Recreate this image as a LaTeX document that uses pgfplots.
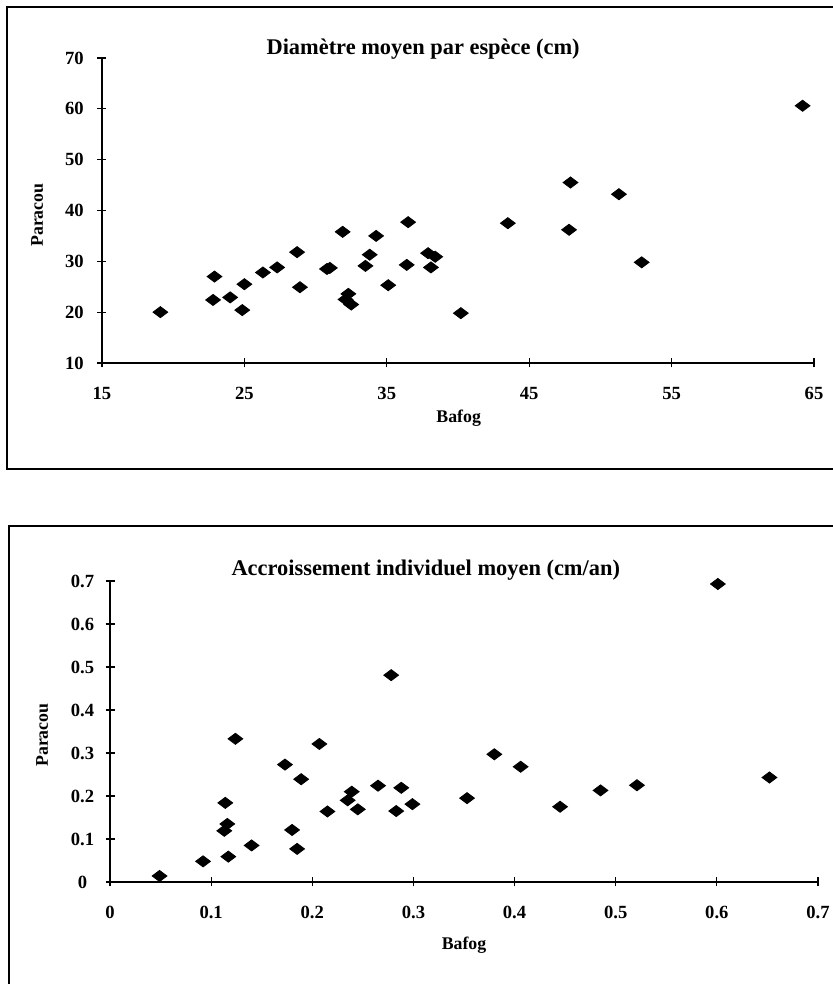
\documentclass[border=0pt]{standalone}
\usepackage{fontspec}
\setmainfont{Liberation Serif}
\usepackage{pgfplots}
\pgfplotsset{compat=1.18}

\pgfplotstableread{
x y
19.1 20.0
22.9 27.0
22.8 22.4
24.0 22.9
24.85 20.4
25.0 25.5
26.3 27.8
27.3 28.8
28.7 31.8
28.9 24.9
30.8 28.5
31.0 28.7
31.9 35.8
32.1 22.5
32.3 23.6
32.5 21.5
33.5 29.1
33.8 31.3
34.25 35.0
35.1 25.3
36.5 37.7
36.4 29.3
37.9 31.6
38.1 28.8
38.4 30.9
40.2 19.8
43.5 37.5
47.8 36.2
47.9 45.5
51.3 43.2
52.9 29.8
64.2 60.6
}\diametre

\pgfplotstableread{
x y
0.049 0.014
0.092 0.048
0.114 0.184
0.113 0.119
0.116 0.135
0.117 0.059
0.124 0.333
0.140 0.085
0.173 0.273
0.180 0.121
0.185 0.077
0.189 0.239
0.207 0.321
0.215 0.164
0.235 0.190
0.239 0.210
0.245 0.169
0.265 0.224
0.278 0.481
0.283 0.165
0.288 0.219
0.299 0.181
0.353 0.195
0.380 0.297
0.406 0.268
0.445 0.175
0.485 0.213
0.521 0.225
0.601 0.693
0.652 0.243
}\accroissement

\pgfplotsset{
  scan/.style={
    scale only axis,
    axis x line=bottom,
    axis y line=left,
    axis line style={-, line width=0.7pt},
    tick align=center,
    major tick length=4.5pt,
    tick style={black, line width=0.6pt},
    /pgf/number format/assume math mode=true,
    tick label style={font=\bfseries\fontsize{9.3}{10}\selectfont},
    xticklabel style={anchor=center, yshift=-13pt},
    yticklabel style={anchor=center, xshift=-11.5pt},
    label style={font=\bfseries\fontsize{8.9}{10}\selectfont},
    title style={font=\bfseries\fontsize{11.2}{13}\selectfont, anchor=center, yshift=0pt},
    clip=false,
  },
  diam/.style={only marks, mark=diamond*, mark size=3.7pt,
    mark options={rotate=90, fill=black, draw=black}},
}

\begin{document}
\begin{tikzpicture}
\useasboundingbox (0pt,0pt) rectangle (416pt,492pt);
% cadres
\draw[line width=0.9pt] (430pt,488.5pt) -- (3.5pt,488.5pt) -- (3.5pt,257.5pt) -- (430pt,257.5pt);
\draw[line width=0.9pt] (430pt,229pt) -- (4.5pt,229pt) -- (4.5pt,-10pt);

\begin{axis}[scan,
  at={(51pt,310.5pt)}, anchor=south west,
  width=356pt, height=152.5pt,
  xmin=15, xmax=65, ymin=10, ymax=70,
  xtick={15,25,...,65}, ytick={10,20,...,70},
  title={Diamètre moyen par espèce (cm)},
  title style={at={(rel axis cs:0.451,0.99)}},
  xlabel={Bafog}, ylabel={Paracou},
  xlabel style={at={(axis description cs:0.501,-0.18)}, anchor=center},
  ylabel style={at={(axis description cs:-0.091,0.485)}, anchor=center},
]
\addplot[diam] table {\diametre};
\end{axis}

\begin{axis}[scan,
  at={(55pt,51pt)}, anchor=south west,
  width=354pt, height=150.5pt,
  xmin=0, xmax=0.7, ymin=0, ymax=0.7,
  xtick={0,0.1,...,0.7}, ytick={0,0.1,...,0.7},
  title={Accroissement individuel moyen (cm/an)},
  title style={at={(rel axis cs:0.446,0.995)}},
  xlabel={Bafog}, ylabel={Paracou},
  xlabel style={at={(axis description cs:0.5,-0.209)}, anchor=center},
  ylabel style={at={(axis description cs:-0.096,0.488)}, anchor=center},
]
\addplot[diam] table {\accroissement};
\end{axis}
\end{tikzpicture}
\end{document}
